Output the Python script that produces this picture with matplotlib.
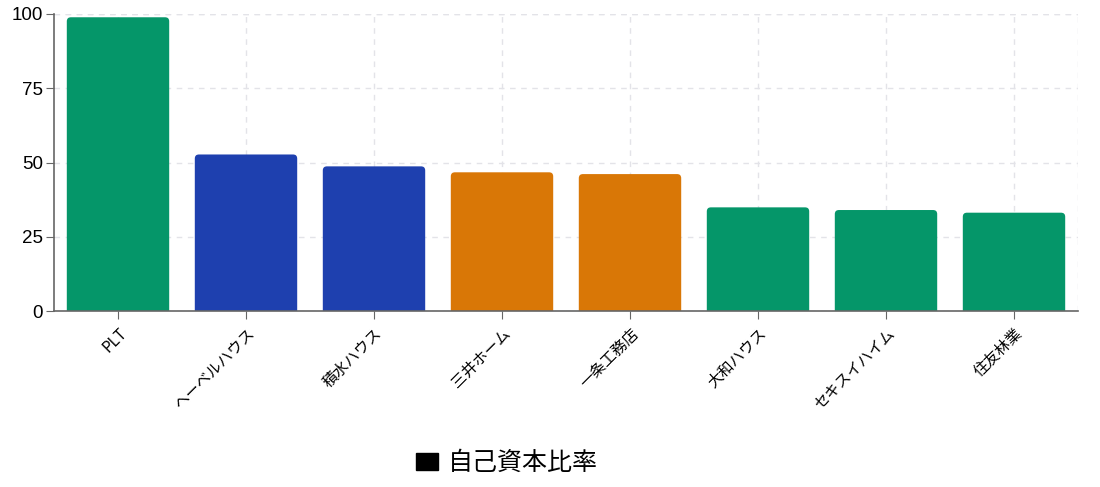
import numpy as np
import matplotlib.pyplot as plt
from matplotlib.patches import FancyBboxPatch, Patch

plt.rcParams['font.family'] = ['Noto Sans CJK JP', 'DejaVu Sans']

# データ
companies = ['PLT', 'ヘーベルハウス', '積水ハウス', '三井ホーム', '一条工務店',
             '大和ハウス', 'セキスイハイム', '住友林業']
equity_ratio = [98.9, 52.7, 48.7, 46.7, 46.1, 34.9, 34.0, 33.1]
bar_colors = ['#059669', '#1E40AF', '#1E40AF', '#D97706', '#D97706',
              '#059669', '#059669', '#059669']
legend_label = '自己資本比率'

fig = plt.figure(figsize=(11, 4.87), dpi=100)
ax = fig.add_axes([54/1100, 1 - 311/487, (1078 - 54)/1100, (311 - 14)/487])

x = np.arange(len(companies))
w = 0.8
for xi, v, c in zip(x, equity_ratio, bar_colors):
    p = FancyBboxPatch((xi - w/2, -3), w, v + 3,
                       boxstyle='round,pad=0,rounding_size=0.032',
                       mutation_aspect=43, fc=c, ec='none', zorder=2)
    ax.add_patch(p)

ax.set_xlim(-0.5, len(companies) - 0.5)
ax.set_ylim(0, 100)
ax.set_yticks([0, 25, 50, 75, 100])
ax.set_xticks(x)
ax.set_xticklabels(companies, rotation=45, ha='right', rotation_mode='anchor',
                   fontsize=11)
for lbl in ax.get_yticklabels():
    lbl.set_family(['Liberation Sans', 'DejaVu Sans'])
ax.tick_params(axis='y', labelsize=13.5, length=6, color='#666666', pad=2)
ax.tick_params(axis='x', length=6, color='#666666', pad=4)

ax.grid(True, linestyle=(0, (4, 4)), color='#e3e3e8', linewidth=1, zorder=0)
ax.axvline(len(companies) - 0.5, linestyle=(0, (4, 4)), color='#e3e3e8',
           linewidth=1, zorder=0)
ax.axhline(100, linestyle=(0, (4, 4)), color='#e3e3e8', linewidth=1, zorder=0)
ax.set_axisbelow(True)
for s in ['top', 'right']:
    ax.spines[s].set_visible(False)
for s in ['left', 'bottom']:
    ax.spines[s].set_color('#666666')
    ax.spines[s].set_linewidth(1.2)

fig.legend(handles=[Patch(color='black', label=legend_label)],
           loc='center', bbox_to_anchor=(0.461, 0.049), frameon=False,
           fontsize=18, handlelength=0.9, handleheight=0.7, handletextpad=0.4)

fig.savefig('out.png', dpi=100)
